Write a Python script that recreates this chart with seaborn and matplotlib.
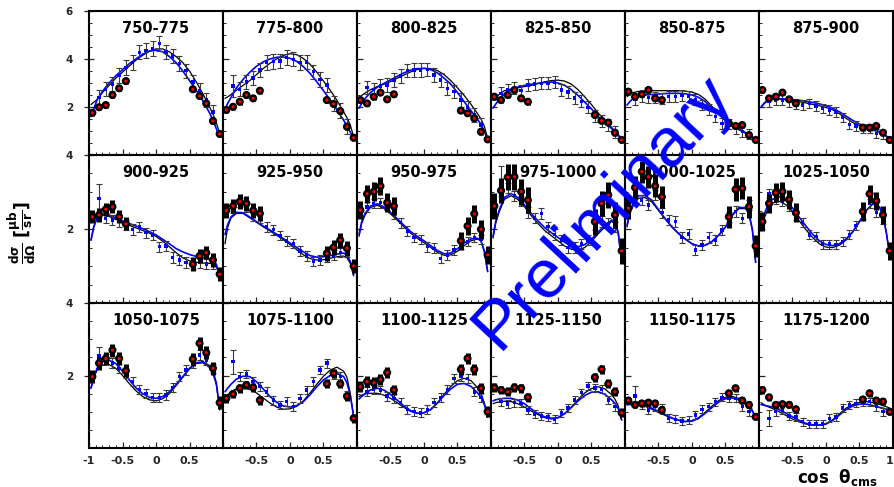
import numpy as np
import pandas as pd
import matplotlib
matplotlib.use("Agg")
import matplotlib.pyplot as plt
from matplotlib.ticker import MultipleLocator, FixedLocator
import seaborn as sns

# ---------------------------------------------------------------- data
BINS = ["750-775", "775-800", "800-825", "825-850", "850-875", "875-900",
        "900-925", "925-950", "950-975", "975-1000", "1000-1025", "1025-1050",
        "1050-1075", "1075-1100", "1100-1125", "1125-1150", "1150-1175", "1175-1200"]

ROW_YMAX = [6, 4, 4]

# model curves, sampled in cos(theta)
CURVE_X = [-0.97, -0.93, -0.88, -0.8, -0.7, -0.6, -0.5, -0.4, -0.3, -0.2, -0.1, 0.0,
           0.1, 0.2, 0.3, 0.4, 0.5, 0.6, 0.7, 0.8, 0.85, 0.9, 0.95]

MODEL_BLUE = [
    [1.60, 1.90, 2.30, 2.65, 3.00, 3.30, 3.55, 3.80, 4.00, 4.20, 4.33, 4.37, 4.30, 4.10, 3.85, 3.50, 3.10, 2.70, 2.25, 1.75, 1.45, 1.10, 0.75],
    [1.90, 2.15, 2.40, 2.80, 3.15, 3.45, 3.70, 3.88, 4.00, 4.07, 4.08, 4.03, 3.90, 3.68, 3.40, 3.05, 2.68, 2.29, 1.88, 1.45, 1.20, 0.95, 0.68],
    [1.95, 2.15, 2.35, 2.60, 2.82, 2.98, 3.13, 3.28, 3.42, 3.53, 3.60, 3.61, 3.56, 3.42, 3.20, 2.95, 2.60, 2.22, 1.85, 1.48, 1.28, 1.00, 0.63],
    [1.95, 2.12, 2.30, 2.55, 2.72, 2.83, 2.90, 2.95, 2.98, 3.02, 3.04, 3.00, 2.90, 2.72, 2.48, 2.20, 1.92, 1.60, 1.35, 1.10, 0.97, 0.82, 0.65],
    [2.08, 2.22, 2.35, 2.45, 2.50, 2.52, 2.54, 2.56, 2.57, 2.57, 2.55, 2.50, 2.40, 2.22, 1.95, 1.68, 1.45, 1.27, 1.10, 0.93, 0.85, 0.75, 0.62],
    [1.98, 2.12, 2.25, 2.33, 2.34, 2.33, 2.31, 2.28, 2.24, 2.19, 2.13, 2.05, 1.95, 1.80, 1.62, 1.44, 1.29, 1.17, 1.07, 0.97, 0.90, 0.80, 0.66],
    [1.70, 2.05, 2.30, 2.41, 2.38, 2.30, 2.22, 2.15, 2.08, 2.01, 1.93, 1.84, 1.72, 1.60, 1.47, 1.38, 1.31, 1.26, 1.22, 1.18, 1.15, 1.05, 0.73],
    [1.85, 2.12, 2.33, 2.45, 2.44, 2.32, 2.20, 2.08, 1.97, 1.86, 1.74, 1.62, 1.50, 1.38, 1.28, 1.24, 1.25, 1.28, 1.32, 1.35, 1.30, 1.12, 0.76],
    [1.85, 2.20, 2.42, 2.62, 2.68, 2.60, 2.45, 2.28, 2.10, 1.93, 1.80, 1.68, 1.55, 1.42, 1.33, 1.35, 1.47, 1.62, 1.73, 1.75, 1.68, 1.40, 0.85],
    [1.80, 2.20, 2.50, 2.85, 2.96, 2.85, 2.65, 2.42, 2.22, 2.04, 1.90, 1.77, 1.64, 1.54, 1.52, 1.58, 1.72, 1.92, 2.10, 2.24, 2.22, 1.90, 1.12],
    [2.10, 2.45, 2.68, 2.90, 2.90, 2.78, 2.52, 2.28, 2.06, 1.88, 1.73, 1.60, 1.54, 1.56, 1.66, 1.83, 2.05, 2.38, 2.58, 2.58, 2.42, 2.00, 1.10],
    [2.05, 2.35, 2.60, 2.80, 2.87, 2.78, 2.57, 2.32, 2.08, 1.86, 1.68, 1.58, 1.55, 1.60, 1.73, 1.93, 2.20, 2.50, 2.68, 2.58, 2.35, 1.90, 1.30],
    [1.65, 1.95, 2.20, 2.38, 2.42, 2.33, 2.12, 1.88, 1.66, 1.50, 1.40, 1.37, 1.42, 1.55, 1.75, 1.97, 2.20, 2.35, 2.38, 2.27, 2.12, 1.80, 1.10],
    [1.55, 1.65, 1.76, 1.90, 1.98, 1.97, 1.83, 1.63, 1.42, 1.26, 1.16, 1.13, 1.17, 1.28, 1.47, 1.69, 1.88, 2.00, 2.06, 1.97, 1.80, 1.45, 0.86],
    [1.35, 1.42, 1.50, 1.60, 1.65, 1.60, 1.48, 1.32, 1.16, 1.03, 0.96, 0.97, 1.06, 1.24, 1.45, 1.63, 1.76, 1.78, 1.70, 1.52, 1.40, 1.20, 0.85],
    [1.30, 1.33, 1.35, 1.37, 1.37, 1.32, 1.22, 1.08, 0.95, 0.86, 0.82, 0.84, 0.95, 1.12, 1.30, 1.45, 1.54, 1.55, 1.48, 1.33, 1.23, 1.08, 0.77],
    [1.19, 1.20, 1.20, 1.20, 1.17, 1.10, 1.01, 0.92, 0.83, 0.77, 0.73, 0.74, 0.82, 0.96, 1.12, 1.27, 1.36, 1.38, 1.33, 1.22, 1.14, 1.02, 0.84],
    [1.20, 1.18, 1.16, 1.13, 1.06, 0.96, 0.86, 0.76, 0.68, 0.64, 0.63, 0.66, 0.76, 0.91, 1.06, 1.16, 1.21, 1.21, 1.17, 1.12, 1.10, 1.07, 1.03],
]

MODEL_BLACK = [
    [2.10, 2.20, 2.30, 2.60, 2.90, 3.20, 3.45, 3.70, 3.95, 4.15, 4.32, 4.42, 4.42, 4.30, 4.10, 3.85, 3.50, 3.05, 2.55, 2.00, 1.70, 1.35, 0.90],
    [2.36, 2.42, 2.52, 2.70, 2.90, 3.10, 3.35, 3.60, 3.82, 4.00, 4.15, 4.22, 4.18, 4.02, 3.78, 3.45, 3.08, 2.70, 2.28, 1.80, 1.55, 1.25, 0.75],
    [2.38, 2.48, 2.58, 2.72, 2.85, 2.95, 3.06, 3.20, 3.33, 3.46, 3.56, 3.61, 3.60, 3.52, 3.35, 3.10, 2.80, 2.48, 2.12, 1.72, 1.50, 1.20, 0.70],
    [2.30, 2.40, 2.52, 2.68, 2.75, 2.80, 2.85, 2.90, 2.98, 3.05, 3.10, 3.12, 3.08, 2.95, 2.72, 2.42, 2.10, 1.75, 1.45, 1.15, 1.00, 0.85, 0.65],
    [2.43, 2.52, 2.60, 2.65, 2.67, 2.68, 2.68, 2.68, 2.68, 2.68, 2.66, 2.62, 2.52, 2.32, 2.02, 1.72, 1.45, 1.23, 1.05, 0.90, 0.82, 0.72, 0.60],
    [2.00, 2.15, 2.28, 2.35, 2.33, 2.30, 2.27, 2.22, 2.17, 2.11, 2.05, 1.98, 1.88, 1.72, 1.53, 1.35, 1.22, 1.12, 1.03, 0.95, 0.88, 0.78, 0.65],
    [1.70, 2.05, 2.30, 2.38, 2.34, 2.26, 2.18, 2.10, 2.03, 1.96, 1.89, 1.80, 1.67, 1.52, 1.36, 1.22, 1.14, 1.10, 1.08, 1.07, 1.06, 1.00, 0.71],
    [1.60, 2.05, 2.30, 2.42, 2.42, 2.30, 2.18, 2.06, 1.95, 1.83, 1.71, 1.58, 1.44, 1.30, 1.20, 1.16, 1.17, 1.21, 1.25, 1.27, 1.22, 1.07, 0.73],
    [1.80, 2.15, 2.38, 2.58, 2.64, 2.56, 2.41, 2.24, 2.06, 1.89, 1.75, 1.63, 1.50, 1.37, 1.29, 1.30, 1.40, 1.55, 1.68, 1.73, 1.68, 1.40, 0.85],
    [1.75, 2.15, 2.45, 2.80, 2.90, 2.80, 2.60, 2.36, 2.15, 1.96, 1.82, 1.68, 1.54, 1.45, 1.43, 1.50, 1.66, 1.87, 2.05, 2.20, 2.18, 1.85, 1.10],
    [2.05, 2.40, 2.62, 2.83, 2.85, 2.73, 2.50, 2.27, 2.05, 1.87, 1.72, 1.60, 1.54, 1.56, 1.67, 1.84, 2.06, 2.36, 2.55, 2.55, 2.40, 1.98, 1.10],
    [1.95, 2.25, 2.48, 2.70, 2.75, 2.66, 2.47, 2.22, 1.98, 1.77, 1.60, 1.51, 1.50, 1.56, 1.70, 1.92, 2.20, 2.50, 2.68, 2.60, 2.38, 1.92, 1.30],
    [1.65, 1.93, 2.15, 2.28, 2.30, 2.20, 2.00, 1.78, 1.58, 1.42, 1.33, 1.30, 1.36, 1.50, 1.72, 1.95, 2.18, 2.33, 2.35, 2.22, 2.05, 1.75, 1.05],
    [1.37, 1.47, 1.56, 1.63, 1.66, 1.62, 1.52, 1.38, 1.24, 1.13, 1.07, 1.08, 1.15, 1.30, 1.52, 1.76, 1.98, 2.15, 2.23, 2.12, 1.95, 1.50, 0.86],
    [1.42, 1.46, 1.49, 1.51, 1.51, 1.46, 1.37, 1.25, 1.12, 1.01, 0.95, 0.97, 1.06, 1.24, 1.48, 1.70, 1.86, 1.92, 1.86, 1.66, 1.50, 1.25, 0.85],
    [1.22, 1.25, 1.27, 1.29, 1.28, 1.22, 1.13, 1.02, 0.92, 0.84, 0.80, 0.83, 0.95, 1.13, 1.34, 1.52, 1.64, 1.69, 1.63, 1.47, 1.35, 1.15, 0.78],
    [1.28, 1.26, 1.24, 1.21, 1.15, 1.07, 0.98, 0.90, 0.82, 0.76, 0.73, 0.75, 0.84, 0.99, 1.16, 1.31, 1.40, 1.42, 1.37, 1.26, 1.17, 1.04, 0.85],
    [1.25, 1.20, 1.15, 1.09, 1.00, 0.90, 0.80, 0.72, 0.66, 0.63, 0.63, 0.67, 0.78, 0.94, 1.10, 1.20, 1.26, 1.28, 1.25, 1.20, 1.17, 1.14, 1.10],
]

# measurement A (blue squares)
BLUE_X = [-0.85, -0.75, -0.65, -0.55, -0.45, -0.35, -0.25, -0.15, -0.05,
          0.05, 0.15, 0.25, 0.35, 0.45, 0.55, 0.65, 0.75, 0.85]

DATA_BLUE = [
    [2.40, 2.74, 2.96, 3.32, 3.64, 3.85, 4.28, 4.35, 4.43, 4.64, 4.30, 4.12, 3.82, 3.51, 3.05, 2.68, 2.29, 1.80],
    [2.88, 2.74, 3.05, 3.20, 3.54, 3.85, 3.89, 3.92, 4.07, 3.99, 3.85, 3.88, 3.47, 3.15, 2.92, 2.15, 1.85, 1.18],
    [2.82, 2.74, 2.88, 2.92, 3.13, 3.29, 3.51, 3.54, 3.54, 3.57, 3.33, 3.13, 2.78, 2.64, 2.29, 1.99, 1.67, 1.25],
    [2.57, 2.71, 2.78, 2.68, 2.92, 2.96, 2.99, 2.99, 3.05, 2.71, 2.62, 2.38, 2.24, 1.98, 1.63, 1.43, 1.24, 0.97],
    [2.32, 2.43, 2.39, 2.39, 2.36, 2.43, 2.43, 2.47, 2.43, 2.32, 2.08, 1.90, 1.60, 1.32, 1.29, 1.11, 0.97, 0.88],
    [2.22, 2.29, 2.29, 2.22, 2.13, 2.08, 2.15, 2.04, 1.94, 1.88, 1.80, 1.57, 1.28, 1.21, 1.11, 1.11, 0.90, 0.86],
    [2.83, 2.29, 2.24, 2.20, 2.11, 1.99, 2.05, 1.90, 1.84, 1.52, 1.54, 1.23, 1.16, 1.09, 1.07, 1.09, 1.05, 1.05],
    [2.55, 2.72, 2.60, 2.35, 2.30, 2.05, 1.98, 1.82, 1.68, 1.61, 1.41, 1.27, 1.12, 1.16, 1.25, 1.30, 1.36, 1.38],
    [2.59, 2.69, 2.71, 2.65, 2.40, 2.17, 1.95, 1.77, 1.72, 1.52, 1.48, 1.21, 1.30, 1.43, 1.60, 1.66, 1.77, 1.72],
    [3.30, 3.10, 2.90, 2.75, 2.45, 2.30, 2.42, 2.06, 1.85, 1.70, 1.50, 1.50, 1.60, 1.70, 2.10, 2.20, 2.15, 2.05],
    [3.01, 2.78, 2.65, 2.92, 2.44, 2.24, 2.20, 1.77, 1.86, 1.43, 1.57, 1.77, 1.70, 1.97, 2.33, 2.47, 2.29, 2.65],
    [2.96, 2.80, 2.74, 2.60, 2.35, 2.17, 1.84, 1.79, 1.59, 1.59, 1.58, 1.66, 1.84, 2.10, 2.40, 2.69, 2.45, 2.25],
    [2.54, 2.45, 2.34, 2.20, 2.06, 1.83, 1.62, 1.51, 1.40, 1.40, 1.46, 1.67, 1.97, 2.15, 2.35, 2.57, 2.43, 2.20],
    [2.38, 1.97, 2.04, 1.83, 1.70, 1.55, 1.32, 1.19, 1.28, 1.14, 1.37, 1.60, 1.83, 2.15, 2.34, 2.01, 1.97, 1.46],
    [1.55, 1.62, 1.60, 1.43, 1.37, 1.25, 1.07, 1.00, 0.97, 1.07, 1.25, 1.40, 1.62, 1.92, 1.97, 1.92, 1.55, 1.40],
    [1.28, 1.21, 1.25, 1.23, 1.05, 0.94, 0.88, 0.85, 0.79, 0.96, 1.10, 1.32, 1.53, 1.71, 1.65, 1.62, 1.32, 1.14],
    [1.43, 1.19, 1.05, 1.14, 1.10, 0.82, 0.79, 0.74, 0.76, 0.91, 1.07, 1.14, 1.28, 1.40, 1.37, 1.37, 1.14, 1.00],
    [0.82, 1.00, 1.05, 0.88, 0.86, 0.73, 0.66, 0.66, 0.66, 0.82, 0.86, 1.10, 1.19, 1.23, 1.28, 1.28, 1.14, 1.00],
]
BLUE_ERR = [0.30, 0.30, 0.28, 0.25, 0.22, 0.20,
            0.14, 0.13, 0.13, 0.14, 0.14, 0.12,
            0.13, 0.12, 0.12, 0.11, 0.11, 0.11]
BLUE_ERR_FIRST = [0.30, 0.45, 0.28, 0.25, 0.22, 0.20,
                  0.38, 0.13, 0.13, 0.40, 0.14, 0.12,
                  0.25, 0.33, 0.12, 0.11, 0.28, 0.22]

# measurement B (black/red points)
RED_X = [-0.95, -0.85, -0.75, -0.65, -0.55, -0.45, 0.55, 0.65, 0.75, 0.85, 0.95]

DATA_RED = [
    [1.76, 1.99, 2.08, 2.50, 2.78, 3.08, 2.74, 2.46, 2.15, 1.42, 0.88],
    [1.88, 2.01, 2.22, 2.50, 2.36, 2.68, 2.29, 2.13, 1.83, 1.18, 0.72],
    [2.29, 2.15, 2.43, 2.60, 2.32, 2.53, 1.85, 1.74, 1.53, 0.97, 0.65],
    [2.43, 2.29, 2.50, 2.71, 2.36, 2.22, 1.67, 1.43, 1.35, 0.93, 0.63],
    [2.64, 2.43, 2.53, 2.71, 2.36, 2.29, 1.32, 1.21, 1.25, 0.83, 0.63],
    [2.71, 2.36, 2.43, 2.60, 2.32, 2.15, 1.14, 1.14, 1.21, 0.93, 0.63],
    [2.33, 2.38, 2.53, 2.60, 2.33, 2.14, 1.05, 1.27, 1.36, 1.16, 0.78],
    [2.50, 2.62, 2.74, 2.69, 2.50, 2.42, 1.34, 1.50, 1.70, 1.48, 1.00],
    [2.51, 2.95, 3.01, 3.16, 2.71, 2.62, 1.68, 2.08, 2.41, 1.99, 1.30],
    [2.62, 3.04, 3.40, 3.41, 3.01, 2.78, 2.20, 2.69, 2.92, 2.38, 1.41],
    [2.56, 3.12, 3.55, 3.41, 3.16, 2.87, 2.33, 3.07, 3.10, 2.60, 1.54],
    [2.20, 2.69, 2.98, 3.01, 2.80, 2.44, 2.47, 2.95, 2.76, 2.38, 1.41],
    [1.97, 2.34, 2.47, 2.70, 2.47, 2.13, 2.45, 2.89, 2.63, 2.20, 1.25],
    [1.37, 1.49, 1.65, 1.74, 1.67, 1.32, 1.77, 2.06, 1.77, 1.43, 0.82],
    [1.69, 1.83, 1.80, 1.89, 2.08, 1.60, 2.17, 2.47, 2.17, 1.65, 1.00],
    [1.67, 1.60, 1.55, 1.67, 1.65, 1.40, 1.95, 2.17, 1.77, 1.55, 0.97],
    [1.31, 1.19, 1.23, 1.25, 1.23, 1.05, 1.51, 1.65, 1.31, 1.19, 0.86],
    [1.60, 1.40, 1.19, 1.21, 1.19, 1.07, 1.34, 1.51, 1.31, 1.28, 1.00],
]
RED_ERR = [0.12, 0.12, 0.12, 0.12, 0.12, 0.12,
           0.18, 0.20, 0.25, 0.35, 0.30, 0.25,
           0.18, 0.12, 0.15, 0.12, 0.10, 0.10]

# ---------------------------------------------------------------- style
sns.set_theme(style="white")
plt.rcParams["font.family"] = ["DejaVu Sans"]
plt.rcParams["mathtext.fontset"] = "dejavusans"
plt.rcParams["mathtext.default"] = "bf"

W, H = 895, 487
fig = plt.figure(figsize=(W / 100, H / 100), dpi=100)
gs = fig.add_gridspec(3, 6, left=89 / W, right=893 / W, top=1 - 11 / H, bottom=1 - 448 / H,
                      hspace=0, wspace=0, height_ratios=[144, 148, 145])

curves = pd.DataFrame(
    [(p, "blue", x, y) for p in range(18) for x, y in zip(CURVE_X, MODEL_BLUE[p])]
    + [(p, "black", x, y) for p in range(18) for x, y in zip(CURVE_X, MODEL_BLACK[p])],
    columns=["panel", "model", "cos", "xsec"])

for p in range(18):
    r, c = divmod(p, 6)
    ax = fig.add_subplot(gs[r, c])
    ymax = ROW_YMAX[r]

    sub = curves[curves.panel == p]
    sns.lineplot(data=sub[sub.model == "black"], x="cos", y="xsec", color="black",
                 lw=0.9, estimator=None, sort=False, ax=ax, zorder=2)
    sns.lineplot(data=sub[sub.model == "blue"], x="cos", y="xsec", color="#0000ff",
                 lw=1.2, estimator=None, sort=False, ax=ax, zorder=2.5)

    # measurement A
    berr = [BLUE_ERR_FIRST[p]] + [BLUE_ERR[p]] * (len(BLUE_X) - 1)
    ax.errorbar(BLUE_X, DATA_BLUE[p], yerr=berr, fmt="none", ecolor="#3a3a3a",
                elinewidth=0.8, capsize=2.0, capthick=0.8, zorder=3)
    sns.scatterplot(x=BLUE_X, y=DATA_BLUE[p], marker="s", s=6, color="#0000ff",
                    edgecolor="none", linewidth=0, ax=ax, zorder=4)

    # measurement B
    ax.errorbar(RED_X, DATA_RED[p], yerr=RED_ERR[p], fmt="none", ecolor="black",
                elinewidth=3.6, capsize=0, zorder=5)
    sns.scatterplot(x=RED_X, y=DATA_RED[p], marker="o", s=34, color="black",
                    edgecolor="none", linewidth=0, ax=ax, zorder=5.5)
    sns.scatterplot(x=RED_X, y=DATA_RED[p], marker="o", s=5, color="#ff0000",
                    edgecolor="none", linewidth=0, ax=ax, zorder=6)

    ax.set_xlim(-1, 1)
    ax.set_ylim(0, ymax)
    ax.set_xlabel("")
    ax.set_ylabel("")
    for s in ax.spines.values():
        s.set_linewidth(1.5)
        s.set_color("black")

    ax.xaxis.set_major_locator(FixedLocator([-1, -0.5, 0, 0.5, 1]))
    ax.xaxis.set_minor_locator(MultipleLocator(0.1))
    ax.yaxis.set_major_locator(FixedLocator([2, 4, 6] if r == 0 else [2, 4]))
    ax.yaxis.set_minor_locator(MultipleLocator(0.5))
    ax.tick_params(axis="x", which="major", direction="in", length=4, width=0.9,
                   bottom=True, top=False, pad=6)
    ax.tick_params(axis="x", which="minor", direction="in", length=2, width=0.7,
                   bottom=True, top=False)
    ax.tick_params(axis="y", which="major", direction="inout" if c == 0 else "in",
                   length=7 if c == 0 else 4, width=0.9, left=True, right=False, pad=8)
    ax.tick_params(axis="y", which="minor", direction="in", length=2, width=0.7,
                   left=True, right=False)

    if r == 2:
        labs = ["-1" if c == 0 else "", "-0.5", "0", "0.5", "1" if c == 5 else ""]
        ax.set_xticklabels(labs, fontsize=8, fontweight="bold")
        if c == 5:
            # keep the right-most label inside the canvas
            ax.get_xticklabels()[-1].set_horizontalalignment("right")
    else:
        ax.set_xticklabels([])
    if c == 0:
        ax.set_yticklabels([str(v) for v in ([2, 4, 6] if r == 0 else [2, 4])],
                           fontsize=7.5, fontweight="bold")
    else:
        ax.set_yticklabels([])

    ax.annotate(BINS[p], xy=(0.5, 1), xycoords="axes fraction", xytext=(0, -12.5),
                textcoords="offset points", ha="center", va="center",
                fontsize=10.5, fontweight="bold", color="black")

# axis titles
fig.text(22 / W, 1 - 233 / H, r"$\frac{d\sigma}{d\Omega}\ [\frac{\mu b}{sr}]$",
         rotation=90, ha="center", va="center", fontsize=12.5, color="black")
fig.text(797 / W, 1 - 478 / H, r"$\mathbf{cos}\ \ \theta_{\mathbf{cms}}$",
         ha="left", va="center", fontsize=12, color="black")

# watermark
fig.text(603 / W, 1 - 212 / H, "Preliminary", rotation=47, rotation_mode="anchor",
         ha="center", va="center", fontsize=50, color="#0000ff",
         family=["Liberation Sans", "DejaVu Sans"], zorder=10)

fig.savefig("out.png", dpi=100, facecolor="white")
